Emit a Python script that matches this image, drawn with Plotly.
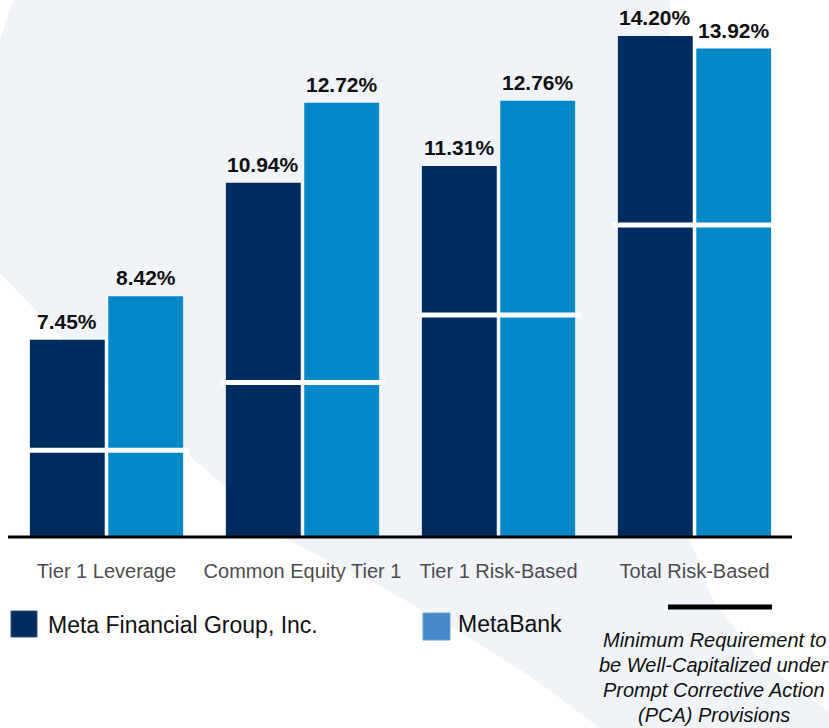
import plotly.graph_objects as go

# ---- data ----
categories = ['Tier 1 Leverage', 'Common Equity Tier 1', 'Tier 1 Risk-Based', 'Total Risk-Based']
meta_financial = [7.45, 10.94, 11.31, 14.20]
metabank = [8.42, 12.72, 12.76, 13.92]
min_required = [5.0, 6.5, 8.0, 10.0]

DARK = '#002B5E'
LIGHT = '#0588C8'
LEGEND_LIGHT = '#4589C8'
BG_SWOOSH = '#F0F4F9'

W, H = 829, 728
PLOT_H = 537  # plot area spans pixel rows 0..537


def px_x(p):
    return p / W


def px_y(p):
    return (PLOT_H - p) / PLOT_H


xs = list(range(len(categories)))

fig = go.Figure()
fig.add_trace(go.Bar(x=xs, y=meta_financial, name='Meta Financial Group, Inc.',
                     marker=dict(color=DARK, line=dict(width=0))))
fig.add_trace(go.Bar(x=xs, y=metabank, name='MetaBank',
                     marker=dict(color=LIGHT, line=dict(width=0))))

shapes = []
annotations = []

# light background swoosh (decorative), pixel outline -> paper coords
outline = [(13, 0), (670, 0), (668, 100), (672, 250), (680, 400), (690, 540),
           (713, 600), (760, 660), (829, 712), (829, 728), (600, 728),
           (530, 676), (450, 626), (380, 586), (287, 540), (200, 465),
           (110, 388), (0, 273), (0, 40)]
path = 'M ' + ' L '.join('%.4f,%.4f' % (px_x(a), px_y(b)) for a, b in outline) + ' Z'
shapes.append(dict(type='path', path=path, xref='paper', yref='paper',
                   fillcolor=BG_SWOOSH, line=dict(width=0), layer='below'))

# minimum requirement markers
for i, req in enumerate(min_required):
    shapes.append(dict(type='line', xref='x', yref='y', x0=i - 0.42, x1=i + 0.42,
                       y0=req, y1=req, line=dict(color='white', width=5), layer='above'))

# baseline
shapes.append(dict(type='line', xref='paper', yref='paper', x0=px_x(8), x1=px_x(792),
                   y0=0, y1=0, line=dict(color='black', width=3)))

# value labels
for i in xs:
    for off, v in ((-0.2, meta_financial[i]), (0.2, metabank[i])):
        annotations.append(dict(x=i + off, y=v, xref='x', yref='y', text='%.2f%%' % v,
                                showarrow=False, yanchor='bottom', yshift=5,
                                font=dict(family='Liberation Sans', size=21, color='#111111',
                                          weight='bold')))

# legend
shapes.append(dict(type='rect', xref='paper', yref='paper', x0=px_x(11), x1=px_x(37),
                   y0=px_y(611), y1=px_y(637), fillcolor=DARK, line=dict(color='#3A5683', width=1)))
shapes.append(dict(type='rect', xref='paper', yref='paper', x0=px_x(423), x1=px_x(450),
                   y0=px_y(613), y1=px_y(640), fillcolor=LEGEND_LIGHT, line=dict(color='#6AA3D8', width=1)))
annotations.append(dict(x=px_x(46), y=px_y(625), xref='paper', yref='paper', xanchor='left',
                        yanchor='middle', text='Meta Financial Group, Inc.', showarrow=False,
                        font=dict(family='Liberation Sans', size=23, color='#111111')))
annotations.append(dict(x=px_x(456), y=px_y(624), xref='paper', yref='paper', xanchor='left',
                        yanchor='middle', text='MetaBank', showarrow=False,
                        font=dict(family='Liberation Sans', size=23, color='#111111')))
shapes.append(dict(type='line', xref='paper', yref='paper', x0=px_x(668), x1=px_x(772),
                   y0=px_y(607), y1=px_y(607), line=dict(color='black', width=5)))
note_lines = ['Minimum Requirement to', 'be Well-Capitalized under',
              'Prompt Corrective Action', '(PCA) Provisions']
for k, line in enumerate(note_lines):
    annotations.append(dict(x=px_x(714), y=px_y(640 + 25 * k), xref='paper', yref='paper',
                            xanchor='center', yanchor='middle',
                            text='<i>%s</i>' % line, showarrow=False,
                            font=dict(family='Liberation Sans', size=20, color='#111111')))

fig.update_layout(
    width=W, height=H,
    margin=dict(l=0, r=0, t=0, b=H - PLOT_H),
    paper_bgcolor='white', plot_bgcolor='rgba(0,0,0,0)',
    barmode='group', bargap=0.2, bargroupgap=0.045,
    showlegend=False,
    shapes=shapes, annotations=annotations,
    xaxis=dict(range=[-0.5434, 3.6862], tickvals=xs, ticktext=categories,
               showgrid=False, zeroline=False, showline=False, ticks='',
               ticklabelstandoff=20,
               tickfont=dict(family='Liberation Sans', size=20, color='#4D4D4D')),
    yaxis=dict(range=[3.07, 15.0], visible=False, showgrid=False, zeroline=False),
)

fig.write_html('out.html', config={'displayModeBar': False},
               post_script="document.body.style.margin='0';")
